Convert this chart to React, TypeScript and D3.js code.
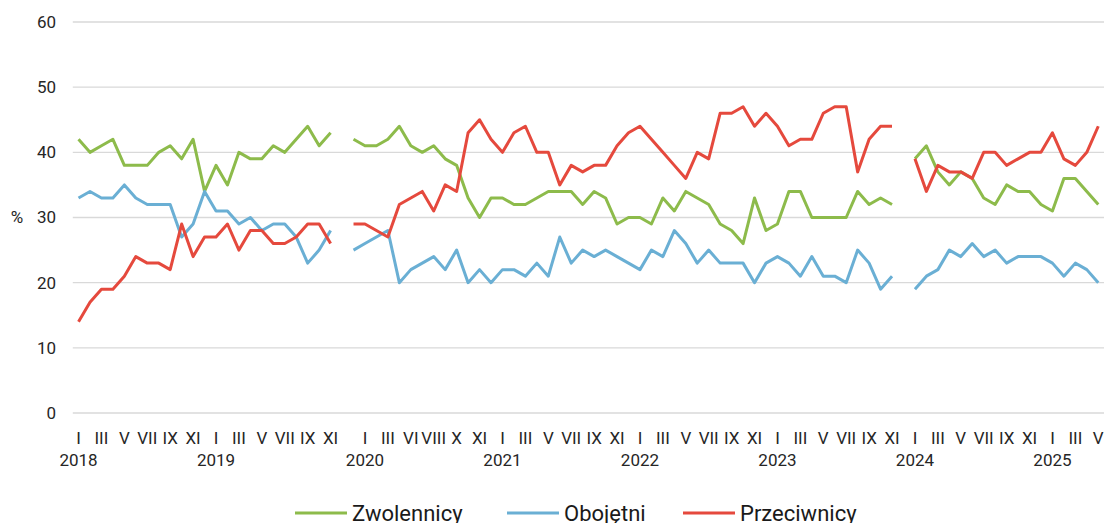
import * as d3 from "d3";
import { useEffect, useRef } from "react";

// month tick labels (only every other shown, blank where Excel hid them)
const monthLabels = [
  "I", "", "III", "", "V", "", "VII", "", "IX", "", "XI", "",
  "I", "", "III", "", "V", "", "VII", "", "IX", "", "XI",
  "", "",
  "I", "", "III", "", "VI", "", "VIII", "", "X", "", "XI", "",
  "I", "", "III", "", "V", "", "VII", "", "IX", "", "XI", "",
  "I", "", "III", "", "V", "", "VII", "", "IX", "", "XI", "",
  "I", "", "III", "", "V", "", "VII", "", "IX", "", "XI",
  "",
  "I", "", "III", "", "V", "", "VII", "", "IX", "", "XI", "",
  "I", "", "III", "", "V",
];

const yearLabels = monthLabels.map(() => "");
const yearStarts: [number, string][] = [
  [0, "2018"], [12, "2019"], [25, "2020"], [37, "2021"],
  [49, "2022"], [61, "2023"], [73, "2024"], [85, "2025"],
];
yearStarts.forEach(([i, y]) => (yearLabels[i] = y));

const zwolennicy: (number | null)[] = [
  42, 40, 41, 42, 38, 38, 38, 40, 41, 39, 42, 34,
  38, 35, 40, 39, 39, 41, 40, 42, 44, 41, 43,
  null,
  42, 41, 41, 42, 44, 41, 40, 41, 39, 38, 33, 30, 33,
  33, 32, 32, 33, 34, 34, 34, 32, 34, 33, 29, 30,
  30, 29, 33, 31, 34, 33, 32, 29, 28, 26, 33, 28,
  29, 34, 34, 30, 30, 30, 30, 34, 32, 33, 32,
  null,
  39, 41, 37, 35, 37, 36, 33, 32, 35, 34, 34, 32,
  31, 36, 36, 34, 32,
];

const obojetni: (number | null)[] = [
  33, 34, 33, 33, 35, 33, 32, 32, 32, 27, 29, 34,
  31, 31, 29, 30, 28, 29, 29, 27, 23, 25, 28,
  null,
  25, 26, 27, 28, 20, 22, 23, 24, 22, 25, 20, 22, 20,
  22, 22, 21, 23, 21, 27, 23, 25, 24, 25, 24, 23,
  22, 25, 24, 28, 26, 23, 25, 23, 23, 23, 20, 23,
  24, 23, 21, 24, 21, 21, 20, 25, 23, 19, 21,
  null,
  19, 21, 22, 25, 24, 26, 24, 25, 23, 24, 24, 24,
  23, 21, 23, 22, 20,
];

const przeciwnicy: (number | null)[] = [
  14, 17, 19, 19, 21, 24, 23, 23, 22, 29, 24, 27,
  27, 29, 25, 28, 28, 26, 26, 27, 29, 29, 26,
  null,
  29, 29, 28, 27, 32, 33, 34, 31, 35, 34, 43, 45, 42,
  40, 43, 44, 40, 40, 35, 38, 37, 38, 38, 41, 43,
  44, 42, 40, 38, 36, 40, 39, 46, 46, 47, 44, 46,
  44, 41, 42, 42, 46, 47, 47, 37, 42, 44, 44,
  null,
  39, 34, 38, 37, 37, 36, 40, 40, 38, 39, 40, 40,
  43, 39, 38, 40, 44,
];

const yTicks = [0, 10, 20, 30, 40, 50, 60];

const series = [
  { name: "Zwolennicy", values: zwolennicy, color: "#8dbb4b" },
  { name: "Obojętni", values: obojetni, color: "#6aafd4" },
  { name: "Przeciwnicy", values: przeciwnicy, color: "#e5493d" },
];

const W = 1106;
const H = 523;
const FONT = "Roboto, 'Noto Sans', sans-serif";

export default function App() {
  const svgRef = useRef<SVGSVGElement>(null);

  useEffect(() => {
    if (!svgRef.current) return;
    const svg = d3.select(svgRef.current);
    svg.selectAll("*").remove();

    const idx = d3.range(monthLabels.length);
    const x = d3
      .scaleBand<number>()
      .domain(idx)
      .range([72.8, 1104])
      .paddingInner(0)
      .paddingOuter(0);
    const cx = (i: number) => (x(i) as number) + x.bandwidth() / 2;
    const y = d3.scaleLinear().domain([0, 60]).range([413, 22]);

    // gridlines
    svg
      .append("g")
      .selectAll("line")
      .data(yTicks)
      .enter()
      .append("line")
      .attr("x1", 72.8)
      .attr("x2", 1104)
      .attr("y1", (d) => y(d))
      .attr("y2", (d) => y(d))
      .attr("stroke", "#d9d9d9")
      .attr("stroke-width", 1.3);

    // y labels
    svg
      .append("g")
      .selectAll("text")
      .data(yTicks)
      .enter()
      .append("text")
      .attr("x", 56)
      .attr("y", (d) => y(d))
      .attr("dy", "0.35em")
      .attr("text-anchor", "end")
      .attr("font-family", FONT)
      .attr("font-size", 17)
      .attr("fill", "#262626")
      .text((d) => d);

    svg
      .append("text")
      .attr("x", 17)
      .attr("y", y(30))
      .attr("dy", "0.35em")
      .attr("text-anchor", "middle")
      .attr("font-family", FONT)
      .attr("font-size", 17)
      .attr("fill", "#262626")
      .text("%");

    // x labels
    const xg = svg.append("g");
    xg.selectAll("text.m")
      .data(idx.filter((i) => monthLabels[i]))
      .enter()
      .append("text")
      .attr("class", "m")
      .attr("x", (i) => cx(i))
      .attr("y", 438)
      .attr("dy", "0.35em")
      .attr("text-anchor", "middle")
      .attr("font-family", FONT)
      .attr("font-size", 17)
      .attr("fill", "#262626")
      .text((i) => monthLabels[i]);

    xg.selectAll("text.y")
      .data(idx.filter((i) => yearLabels[i]))
      .enter()
      .append("text")
      .attr("class", "y")
      .attr("x", (i) => cx(i))
      .attr("y", 460)
      .attr("dy", "0.35em")
      .attr("text-anchor", "middle")
      .attr("font-family", FONT)
      .attr("font-size", 17)
      .attr("fill", "#262626")
      .text((i) => yearLabels[i]);

    // lines
    const line = d3
      .line<number | null>()
      .defined((d) => d != null)
      .x((_, i) => cx(i))
      .y((d) => y(d as number));

    series.forEach((s) => {
      svg
        .append("path")
        .datum(s.values)
        .attr("fill", "none")
        .attr("stroke", s.color)
        .attr("stroke-width", 3)
        .attr("stroke-linejoin", "round")
        .attr("d", line);
    });

    // legend
    const legendX = [295, 507, 683];
    const lg = svg.append("g");
    series.forEach((s, k) => {
      lg.append("line")
        .attr("x1", legendX[k])
        .attr("x2", legendX[k] + 52)
        .attr("y1", 513)
        .attr("y2", 513)
        .attr("stroke", s.color)
        .attr("stroke-width", 3);
      lg.append("text")
        .attr("x", legendX[k] + 57)
        .attr("y", 513)
        .attr("dy", "0.35em")
        .attr("font-family", FONT)
        .attr("font-size", 22)
        .attr("fill", "#1a1a1a")
        .text(s.name);
    });
  }, []);

  return (
    <div style={{ position: "absolute", left: 0, top: 0 }}>
      <svg ref={svgRef} width={W} height={H} style={{ display: "block" }} />
    </div>
  );
}
